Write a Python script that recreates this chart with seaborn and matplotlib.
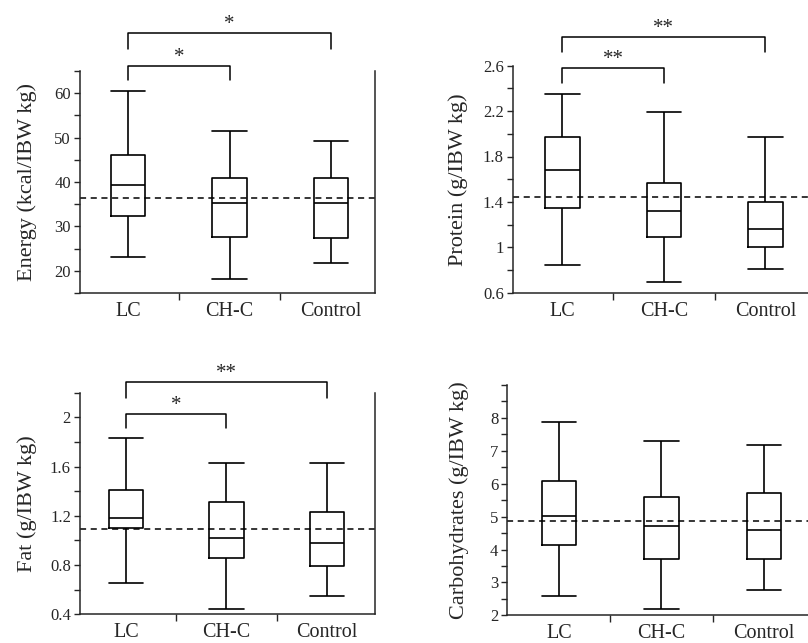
import numpy as np
import pandas as pd
import matplotlib
matplotlib.use("Agg")
import matplotlib.pyplot as plt
from matplotlib.ticker import FixedLocator
import seaborn as sns

# ------------------------------------------------------------------
# dati: [min, Q1, mediana, Q3, max] per gruppo
# ------------------------------------------------------------------
gruppi = ["LC", "CH-C", "Control"]

energy_lc = [23.1, 32.3, 39.4, 46.0, 60.6]
energy_chc = [18.2, 27.6, 35.2, 40.9, 51.5]
energy_ctrl = [21.8, 27.4, 35.2, 40.9, 49.2]
energy_ref = 36.5
energy_ticks = [20, 30, 40, 50, 60]

protein_lc = [0.84, 1.35, 1.68, 1.97, 2.35]
protein_chc = [0.69, 1.09, 1.32, 1.57, 2.19]
protein_ctrl = [0.81, 1.005, 1.16, 1.40, 1.97]
protein_ref = 1.44
protein_ticks = [0.6, 1.0, 1.4, 1.8, 2.2, 2.6]

fat_lc = [0.655, 1.10, 1.18, 1.41, 1.83]
fat_chc = [0.446, 0.856, 1.02, 1.31, 1.63]
fat_ctrl = [0.55, 0.79, 0.98, 1.227, 1.63]
fat_ref = 1.095
fat_ticks = [0.4, 0.8, 1.2, 1.6, 2.0]

carb_lc = [2.60, 4.13, 5.02, 6.07, 7.87]
carb_chc = [2.18, 3.71, 4.71, 5.60, 7.29]
carb_ctrl = [2.77, 3.71, 4.60, 5.71, 7.17]
carb_ref = 4.87
carb_ticks = [2, 3, 4, 5, 6, 7, 8]

# parentesi di significativita: (gruppo a, gruppo b, altezza barra, altezza gambe, etichetta)
energy_sig = [(0, 1, 66.2, 62.9, "*"), (0, 2, 73.5, 70.0, "*")]
protein_sig = [(0, 1, 2.58, 2.445, "**"), (0, 2, 2.856, 2.718, "**")]
fat_sig = [(0, 1, 2.03, 1.91, "*"), (0, 2, 2.29, 2.16, "**")]
carb_sig = []

sns.set_style("ticks")
plt.rcParams["font.family"] = ["Liberation Serif", "DejaVu Serif"]

W, H = 808, 643
fig = plt.figure(figsize=(W / 100, H / 100), dpi=100)


def pannello(px, valori, ref, sig, ylabel, ylim, ticks, minor, xlim, spina_destra, label_x):
    # px = (sinistra, alto, destra, basso) in pixel dell'immagine
    x0, y0, x1, y1 = px
    ax = fig.add_axes([x0 / W, 1 - y1 / H, (x1 - x0) / W, (y1 - y0) / H])
    df = pd.DataFrame({
        "gruppo": np.repeat(gruppi, 5),
        "valore": np.concatenate(valori),
    })
    sns.boxplot(data=df, x="gruppo", y="valore", order=gruppi, ax=ax,
                whis=(0, 100), width=0.34, fill=False, color="black",
                linecolor="black", linewidth=1.2, capwidths=0.34,
                showfliers=False)
    ax.axhline(ref, color="black", lw=1.1, ls=(0, (4, 3)), zorder=0)

    for a, b, hbar, hleg, lab in sig:
        ax.plot([a, a, b, b], [hleg, hbar, hbar, hleg], color="black",
                lw=1.1, clip_on=False)
        ax.annotate(lab, xy=((a + b) / 2, hbar), xytext=(0, 6),
                    textcoords="offset points", ha="center", va="center",
                    fontsize=15, annotation_clip=False)

    ax.set_xlim(*xlim)
    ax.set_ylim(*ylim)
    ax.yaxis.set_major_locator(FixedLocator(ticks))
    ax.yaxis.set_minor_locator(FixedLocator(np.arange(ylim[0], ylim[1] + 1e-9, minor)))
    ax.yaxis.set_major_formatter(plt.FuncFormatter(lambda v, p: f"{v:g}"))
    ax.xaxis.set_minor_locator(FixedLocator([0.5, 1.5]))
    ax.tick_params(axis="x", which="major", length=0, labelsize=14.5, pad=6.5)
    ax.tick_params(axis="x", which="minor", length=5, width=1.0, direction="out")
    ax.tick_params(axis="y", which="both", length=4.5, width=1.0, direction="out",
                   labelsize=12, pad=2)
    ax.set_xlabel("")
    ax.set_ylabel(ylabel, fontsize=16)
    ax.yaxis.set_label_coords((label_x - x0) / (x1 - x0), 0.5)

    ax.spines["top"].set_visible(False)
    ax.spines["right"].set_visible(spina_destra)
    for s in ax.spines.values():
        s.set_linewidth(1.1)
    return ax


pannello((80, 71, 375, 293),
         [energy_lc, energy_chc, energy_ctrl], energy_ref, energy_sig,
         "Energy (kcal/IBW kg)", (15, 65), energy_ticks, 5,
         (-0.473, 2.433), True, 37)

pannello((513, 65.7, 808, 292.7),
         [protein_lc, protein_chc, protein_ctrl], protein_ref, protein_sig,
         "Protein (g/IBW kg)", (0.6, 2.6), protein_ticks, 0.2,
         (-0.486, 2.42), False, 468)

pannello((80, 392.7, 375, 614.3),
         [fat_lc, fat_chc, fat_ctrl], fat_ref, fat_sig,
         "Fat (g/IBW kg)", (0.4, 2.2), fat_ticks, 0.2,
         (-0.46, 2.48), True, 37)

pannello((507.3, 385, 808, 615.3),
         [carb_lc, carb_chc, carb_ctrl], carb_ref, carb_sig,
         "Carbohydrates (g/IBW kg)", (2, 9), carb_ticks, 0.5,
         (-0.504, 2.43), False, 469)

fig.savefig("out.png", dpi=100)
